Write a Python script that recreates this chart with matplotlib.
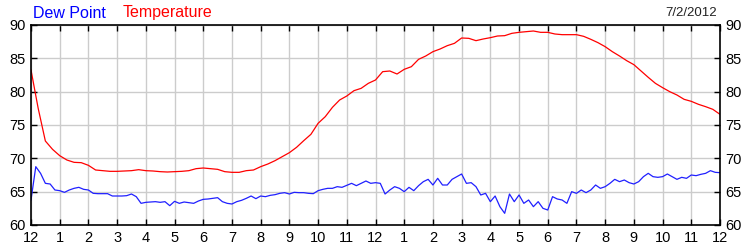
import numpy as np
import matplotlib
matplotlib.use("Agg")
import matplotlib.pyplot as plt

# temperature every 15 minutes, hours 0..24
temp_hours = np.arange(0, 24.01, 0.25)
temperature = [
    83.25, 77.5, 72.6, 71.35, 70.4, 69.75, 69.4, 69.35, 68.95, 68.25, 68.15, 68.05,
    68.05, 68.1, 68.15, 68.3, 68.15, 68.1, 68.0, 67.95, 68.0, 68.05, 68.15, 68.45,
    68.55, 68.45, 68.35, 68.0, 67.9, 67.9, 68.15, 68.25, 68.75, 69.15, 69.65, 70.25,
    70.85, 71.65, 72.65, 73.6, 75.25, 76.25, 77.65, 78.75, 79.35, 80.15, 80.5, 81.25,
    81.75, 83.0, 83.1, 82.65, 83.35, 83.75, 84.85, 85.35, 86.0, 86.4, 86.9, 87.25,
    88.05, 88.0, 87.65, 87.9, 88.1, 88.35, 88.4, 88.75, 88.9, 89.0, 89.1, 88.9,
    88.9, 88.65, 88.55, 88.55, 88.55, 88.3, 87.85, 87.35, 86.75, 86.0, 85.35, 84.65,
    84.05, 83.1, 82.15, 81.25, 80.6, 80.0, 79.5, 78.85, 78.55, 78.1, 77.75, 77.35,
    76.6,
]

# dew point every 10 minutes, hours 0..24
dew_hours = np.arange(0, 24.01, 1 / 6)
dew_point = [
    63.75, 68.75, 67.75, 66.25, 66.15, 65.25, 65.15, 64.9, 65.25, 65.5, 65.65, 65.35,
    65.25, 64.75, 64.7, 64.7, 64.7, 64.35, 64.35, 64.35, 64.4, 64.65, 64.25, 63.25,
    63.4, 63.45, 63.5, 63.4, 63.5, 62.9, 63.55, 63.25, 63.45, 63.35, 63.25, 63.6,
    63.85, 63.9, 64.0, 64.1, 63.5, 63.25, 63.15, 63.5, 63.7, 64.0, 64.35, 63.95,
    64.35, 64.25, 64.45, 64.55, 64.75, 64.85, 64.65, 64.9, 64.85, 64.85, 64.75, 64.7,
    65.15, 65.35, 65.5, 65.5, 65.75, 65.65, 65.95, 66.25, 65.9, 66.25, 66.6, 66.25,
    66.35, 66.25, 64.65, 65.25, 65.75, 65.5, 65.0, 65.65, 65.15, 65.9, 66.5, 66.85,
    66.0, 67.0, 66.0, 66.0, 66.85, 67.25, 67.65, 66.25, 66.35, 65.75, 64.5, 64.75,
    63.5, 64.35, 62.75, 61.75, 64.65, 63.5, 64.5, 63.25, 63.75, 62.75, 63.5, 62.5,
    62.25, 64.25, 63.9, 63.75, 63.25, 65.0, 64.75, 65.25, 64.85, 65.25, 66.0, 65.5,
    65.75, 66.25, 66.85, 66.5, 66.75, 66.35, 66.15, 66.5, 67.25, 67.75, 67.25, 67.15,
    67.25, 67.65, 67.25, 66.85, 67.15, 67.0, 67.5, 67.4, 67.6, 67.75, 68.15, 67.9,
    67.85,
]

hour_labels = ["12"] + [str(i) for i in range(1, 12)] + ["12"] + [str(i) for i in range(1, 12)] + ["12"]
y_ticks = [60, 65, 70, 75, 80, 85, 90]
date_label = "7/2/2012"

plt.rcParams["font.family"] = ["Liberation Sans", "DejaVu Sans"]

fig = plt.figure(figsize=(7.5, 2.5), dpi=100)
ax = fig.add_axes([31 / 750, 0.1, 689 / 750, 0.8])

ax.plot(temp_hours, temperature, color="#ff0000", lw=0.9)
ax.plot(dew_hours, dew_point, color="#2020ff", lw=0.9)

ax.set_xlim(0, 24)
ax.set_ylim(60, 90)
ax.set_xticks(range(25))
ax.set_xticklabels(hour_labels)
ax.set_yticks(y_ticks)
ax.grid(True, color="#cccccc", lw=1)
ax.tick_params(direction="in", length=4, width=1, labelsize=10.5, pad=4,
               top=True, right=True, labelright=True, colors="black")
for s in ax.spines.values():
    s.set_linewidth(1.2)

fig.text(33 / 750, 1 - 13 / 250, "Dew Point", color="#0000ff", fontsize=11.5, va="center")
fig.text(123 / 750, 1 - 13 / 250, "Temperature", color="#ff0000", fontsize=11.5, va="center")
fig.text(717 / 750, 1 - 13 / 250, date_label, color="#222222", fontsize=9.5, va="center", ha="right")

fig.savefig("out.png", dpi=100)
